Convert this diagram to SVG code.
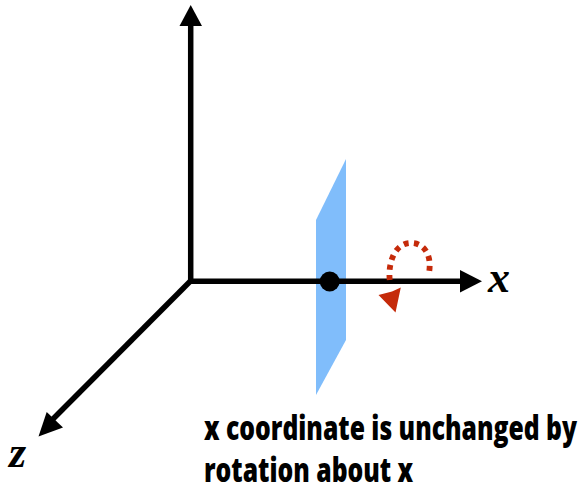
<svg xmlns="http://www.w3.org/2000/svg" width="580" height="489" viewBox="0 0 580 489">
  <style>
    .axis { fill: none; stroke: #000; stroke-width: 5.500; }
    .head { fill: #000; }
    .lbl { font-family: "Liberation Serif", serif; font-style: italic; font-weight: bold; font-size: 44px; fill: #000; }
    .cap { font-family: "Open Sans", sans-serif; font-weight: 800; font-size: 34px; fill: #000; }
  </style>
  <g id="plane"><polygon points="346,159 316,220 316,395 346,340" fill="#80bdfb"/></g>
  <g id="connectors">
    <line class="axis" x1="190.700" y1="24" x2="190.700" y2="283"/>
    <polygon class="head" points="190.700,5 179.500,26 202,26"/>
    <line class="axis" x1="188" y1="281.300" x2="462" y2="281.300"/>
    <polygon class="head" points="482,281.300 460,270 460,292.500"/>
    <line class="axis" x1="190.500" y1="281" x2="52" y2="420"/>
    <polygon class="head" points="38.500,436.500 46.700,412 63,427.500"/>
    <path d="M389.700,280 C388,262 395,243 411,243 C425,243 432,256 429,273" fill="none" stroke="#c52a0a" stroke-width="5.800" stroke-dasharray="5 5.150"/>
    <polygon points="395.500,312.500 378.500,295 392,291.500 400.800,287.500" fill="#c52a0a"/>
  </g>
  <g id="origin-point"><circle cx="329.700" cy="281.500" r="10" fill="#000"/></g>
  <g id="label-x"><text class="lbl" x="488" y="292">x</text></g>
  <g id="label-z"><text class="lbl" x="9" y="467">z</text></g>
  <g id="caption">
    <text class="cap" transform="translate(204,439.500) scale(0.727,1)">x coordinate is unchanged by</text>
    <text class="cap" transform="translate(204,482) scale(0.727,1)">rotation about x</text>
  </g>
</svg>
